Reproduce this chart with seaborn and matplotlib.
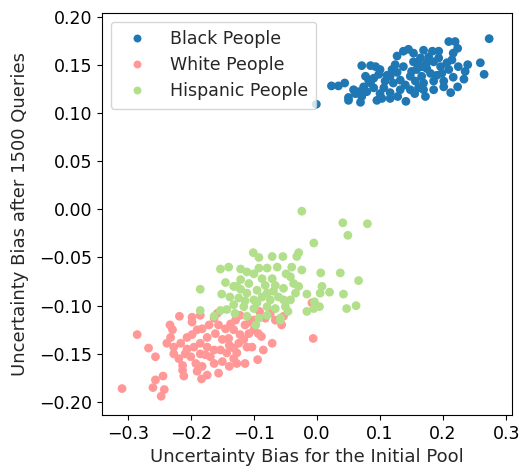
import pandas as pd
import seaborn as sns
import matplotlib.pyplot as plt

# --- data ---
black_x = [0.273, 0.259, 0.265, 0.209, 0.219, 0.223, 0.216, 0.239, 0.235, 0.233,
           0.223, 0.212, 0.201, 0.193, 0.183, 0.169, 0.153, 0.145, 0.137, 0.127,
           0.124, 0.119, 0.111, 0.100, 0.093, 0.085, 0.071, 0.077, 0.082, 0.090,
           0.079, 0.071, 0.061, 0.050, 0.050, 0.069, 0.095, 0.103, 0.116, 0.128,
           0.141, 0.155, 0.172, 0.169, 0.185, 0.201, 0.044, 0.034, 0.023, -0.001,
           0.106, 0.121, 0.132, 0.140, 0.148, 0.158, 0.166, 0.174, 0.185, 0.196,
           0.206, 0.214, 0.224, 0.180, 0.190, 0.166, 0.156, 0.169, 0.185, 0.116,
           0.108, 0.127, 0.137, 0.153, 0.164, 0.177, 0.193, 0.209, 0.216, 0.148,
           0.161, 0.116, 0.100, 0.090, 0.085, 0.074, 0.066, 0.058, 0.098, 0.132,
           0.174, 0.161, 0.198, 0.150]
black_y = [0.177, 0.152, 0.140, 0.174, 0.174, 0.167, 0.162, 0.150, 0.143, 0.135,
           0.127, 0.121, 0.133, 0.164, 0.164, 0.165, 0.162, 0.166, 0.164, 0.159,
           0.150, 0.145, 0.139, 0.145, 0.148, 0.149, 0.149, 0.138, 0.134, 0.126,
           0.122, 0.117, 0.120, 0.116, 0.113, 0.111, 0.113, 0.115, 0.115, 0.117,
           0.112, 0.120, 0.117, 0.124, 0.124, 0.127, 0.131, 0.128, 0.128, 0.109,
           0.126, 0.131, 0.134, 0.129, 0.138, 0.145, 0.148, 0.152, 0.153, 0.148,
           0.152, 0.155, 0.148, 0.141, 0.139, 0.138, 0.133, 0.131, 0.133, 0.138,
           0.133, 0.142, 0.148, 0.153, 0.157, 0.158, 0.157, 0.145, 0.137, 0.124,
           0.126, 0.121, 0.120, 0.136, 0.131, 0.127, 0.122, 0.124, 0.140, 0.124,
           0.146, 0.150, 0.141, 0.143]

white_x = [-0.309, -0.285, -0.267, -0.256, -0.244, -0.256, -0.260, -0.242, -0.247, -0.233,
           -0.229, -0.232, -0.238, -0.227, -0.218, -0.216, -0.219, -0.213, -0.211, -0.209,
           -0.206, -0.198, -0.198, -0.190, -0.185, -0.183, -0.182, -0.192, -0.200, -0.195,
           -0.185, -0.177, -0.174, -0.171, -0.163, -0.161, -0.163, -0.156, -0.153, -0.150,
           -0.143, -0.139, -0.139, -0.132, -0.129, -0.127, -0.124, -0.122, -0.114, -0.111,
           -0.108, -0.106, -0.103, -0.100, -0.094, -0.093, -0.091, -0.085, -0.082, -0.071,
           -0.074, -0.066, -0.056, -0.053, -0.008, -0.006, -0.145, -0.137, -0.122, -0.114,
           -0.156, -0.174, -0.163, -0.206, -0.185, -0.169, -0.127, -0.150, -0.132, -0.213,
           -0.198, -0.182, -0.158, -0.100, -0.132, -0.140, -0.174, -0.190, -0.227, -0.116,
           -0.088]
white_y = [-0.186, -0.130, -0.144, -0.153, -0.173, -0.177, -0.185, -0.187, -0.194, -0.120,
           -0.125, -0.133, -0.139, -0.143, -0.111, -0.139, -0.155, -0.167, -0.173, -0.150,
           -0.133, -0.117, -0.112, -0.125, -0.110, -0.176, -0.163, -0.160, -0.153, -0.143,
           -0.139, -0.151, -0.133, -0.120, -0.113, -0.129, -0.160, -0.170, -0.146, -0.135,
           -0.149, -0.163, -0.141, -0.125, -0.115, -0.160, -0.139, -0.130, -0.160, -0.143,
           -0.129, -0.117, -0.143, -0.125, -0.156, -0.129, -0.106, -0.146, -0.113, -0.139,
           -0.108, -0.115, -0.120, -0.111, -0.097, -0.134, -0.124, -0.119, -0.110, -0.120,
           -0.120, -0.143, -0.146, -0.145, -0.150, -0.153, -0.149, -0.158, -0.144, -0.162,
           -0.130, -0.124, -0.108, -0.115, -0.155, -0.134, -0.172, -0.168, -0.150, -0.135,
           -0.132]

hisp_x = [-0.024, 0.041, 0.080, 0.049, -0.005, -0.101, -0.092, -0.071, -0.054, -0.029,
          -0.032, -0.153, -0.140, -0.121, -0.111, -0.092, -0.079, -0.063, -0.049, -0.040,
          -0.024, 0.006, 0.037, 0.066, -0.185, -0.145, -0.132, -0.121, -0.108, -0.095,
          -0.082, -0.069, -0.053, -0.037, -0.029, 0.008, 0.005, 0.020, 0.042, -0.016,
          -0.151, -0.138, -0.124, -0.111, -0.100, -0.087, -0.074, -0.061, -0.042, -0.132,
          -0.116, -0.100, -0.079, -0.066, -0.050, -0.004, 0.004, -0.016, -0.005, 0.047,
          0.062, -0.185, -0.163, -0.153, -0.130, -0.111, -0.092, -0.079, -0.046, -0.058,
          -0.097, -0.058, -0.121, -0.071, -0.100, -0.079, -0.114, -0.143, -0.053, -0.042,
          -0.087, -0.095, -0.127, -0.066, -0.034]
hisp_y = [-0.002, -0.014, -0.015, -0.027, -0.035, -0.045, -0.050, -0.049, -0.049, -0.045,
          -0.049, -0.062, -0.060, -0.062, -0.065, -0.061, -0.061, -0.060, -0.067, -0.060,
          -0.063, -0.066, -0.066, -0.074, -0.083, -0.076, -0.080, -0.073, -0.077, -0.084,
          -0.079, -0.085, -0.082, -0.077, -0.080, -0.080, -0.087, -0.086, -0.088, -0.088,
          -0.088, -0.091, -0.092, -0.087, -0.094, -0.091, -0.094, -0.091, -0.094, -0.099,
          -0.101, -0.103, -0.101, -0.103, -0.101, -0.096, -0.101, -0.106, -0.103, -0.103,
          -0.100, -0.105, -0.111, -0.105, -0.108, -0.111, -0.113, -0.110, -0.106, -0.115,
          -0.120, -0.113, -0.083, -0.072, -0.067, -0.087, -0.095, -0.104, -0.094, -0.070,
          -0.072, -0.097, -0.080, -0.079, -0.087]

groups = ["Black People", "White People", "Hispanic People"]
colors = ["#1f77b4", "#ff9896", "#b2df8a"]

df = pd.DataFrame({
    "x": black_x + white_x + hisp_x,
    "y": black_y + white_y + hisp_y,
    "group": [groups[0]] * len(black_x) + [groups[1]] * len(white_x) + [groups[2]] * len(hisp_x),
})

sns.set_style("ticks")
plt.rcParams["font.family"] = ["DejaVu Sans"]

fig = plt.figure(figsize=(5.25, 4.69), dpi=100)
ax = fig.add_axes([0.194, 0.115, 0.781, 0.857])
sns.scatterplot(data=df, x="x", y="y", hue="group", hue_order=groups,
                palette=colors, s=40, linewidth=0, ax=ax)

ax.set_xlim(-0.341, 0.309)
ax.set_ylim(-0.2135, 0.2035)
ax.set_xticks([-0.3, -0.2, -0.1, 0.0, 0.1, 0.2, 0.3])
ax.set_yticks([-0.20, -0.15, -0.10, -0.05, 0.00, 0.05, 0.10, 0.15, 0.20])
ax.set_yticklabels([f"{v:.2f}".replace("-", "\u2212") for v in ax.get_yticks()])
ax.set_xticklabels([f"{v:.1f}".replace("-", "\u2212") for v in ax.get_xticks()])
ax.tick_params(labelsize=12.5, colors="black")
ax.set_xlabel("Uncertainty Bias for the Initial Pool", fontsize=13, labelpad=4)
ax.set_ylabel("Uncertainty Bias after 1500 Queries", fontsize=13, labelpad=7)
for sp in ax.spines.values():
    sp.set_color("black")

ax.legend(loc="upper left", fontsize=12.5, handletextpad=0.9, borderpad=0.5,
          labelspacing=0.45, frameon=True, markerscale=0.9)

plt.savefig("out.png", dpi=100)
plt.close()
